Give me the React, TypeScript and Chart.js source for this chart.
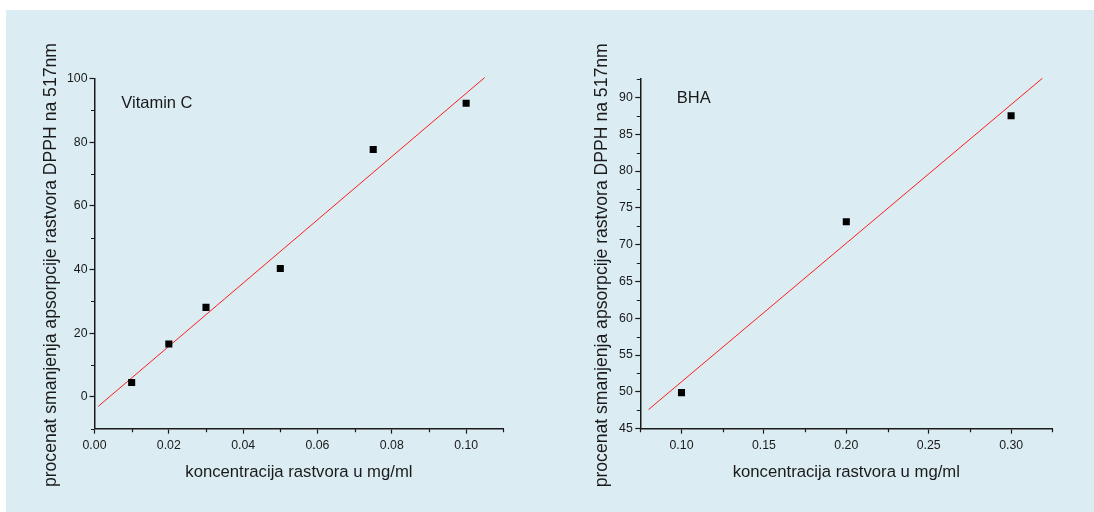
import React, { useEffect, useRef } from "react";
import { Chart, registerables } from "chart.js";

Chart.register(...registerables);

// ---------- data: Vitamin C ----------
const vitCConc = [0.01, 0.02, 0.03, 0.05, 0.075, 0.1];
const vitCValues = [4.5, 16.6, 28.1, 40.3, 77.7, 92.2];
const vitCFitX = [0.001, 0.105];
const vitCFitY = [-3.0, 100.3];
const vitCXMajor = [0, 0.02, 0.04, 0.06, 0.08, 0.1];
const vitCXMinor = [0.01, 0.03, 0.05, 0.07, 0.09, 0.11];
const vitCYMajor = [0, 20, 40, 60, 80, 100];
const vitCYMinor = [-10, 10, 30, 50, 70, 90];

// ---------- data: BHA ----------
const bhaConc = [0.1, 0.2, 0.3];
const bhaValues = [49.9, 73.1, 87.5];
const bhaFitX = [0.08, 0.319];
const bhaFitY = [47.6, 92.6];
const bhaXMajor = [0.1, 0.15, 0.2, 0.25, 0.3];
const bhaXMinor = [0.075, 0.125, 0.175, 0.225, 0.275, 0.325];
const bhaYMajor = [45, 50, 55, 60, 65, 70, 75, 80, 85, 90];
const bhaYMinor = [47.5, 52.5, 57.5, 62.5, 67.5, 72.5, 77.5, 82.5, 87.5, 92.5];

const X_TITLE = "koncentracija rastvora u mg/ml";
const Y_TITLE = "procenat smanjenja apsorpcije rastvora DPPH na 517nm";

const FONT = '"Liberation Sans", Arial, Helvetica, sans-serif';
const TEXT = "#1a1a1a";
const AXIS = "#1a1a1a";

type Spec = {
  conc: number[];
  values: number[];
  fitX: number[];
  fitY: number[];
  xMin: number;
  xMax: number;
  yMin: number;
  yMax: number;
  xMajor: number[];
  xMinor: number[];
  yMajor: number[];
  yMinor: number[];
  xDecimals: number;
  label: string;
  labelX: number;
  labelY: number;
  padTop: number;
  padRight: number;
  yWidth: number;
  yTitleGap: number;
  yLabelPad: number;
};

const decorPlugin = {
  id: "decor",
  afterDraw(chart: any, _args: any, opts: any) {
    const { ctx, chartArea } = chart;
    const xs = chart.scales.x;
    const ys = chart.scales.y;
    ctx.save();
    ctx.strokeStyle = AXIS;
    ctx.lineWidth = 1.2;
    ctx.beginPath();
    (opts.xMinor as number[]).forEach((v) => {
      const px = Math.round(xs.getPixelForValue(v)) + 0.5;
      ctx.moveTo(px, chartArea.bottom);
      ctx.lineTo(px, chartArea.bottom + 3.5);
    });
    (opts.yMinor as number[]).forEach((v) => {
      const py = Math.round(ys.getPixelForValue(v)) + 0.5;
      ctx.moveTo(chartArea.left - 3.5, py);
      ctx.lineTo(chartArea.left, py);
    });
    ctx.stroke();

    ctx.fillStyle = TEXT;
    ctx.font = `16.5px ${FONT}`;
    ctx.textAlign = "left";
    ctx.textBaseline = "alphabetic";
    ctx.fillText(opts.label, xs.getPixelForValue(opts.labelX), ys.getPixelForValue(opts.labelY));

    ctx.translate(chartArea.left - opts.yTitleGap, (chartArea.top + chartArea.bottom) / 2 + 11.5);
    ctx.rotate(-Math.PI / 2);
    ctx.textAlign = "center";
    ctx.font = `17.6px ${FONT}`;
    ctx.fillText(Y_TITLE, 0, 0);
    ctx.restore();
  },
};

function makeConfig(s: Spec): any {
  const points = s.conc.map((c, i) => ({ x: c, y: s.values[i] }));
  const fit = s.fitX.map((c, i) => ({ x: c, y: s.fitY[i] }));
  return {
    type: "scatter",
    data: {
      datasets: [
        {
          label: "data",
          data: points,
          pointStyle: "rect",
          pointRadius: 5,
          pointBorderWidth: 0,
          backgroundColor: "#000000",
          borderColor: "#000000",
          showLine: false,
        },
        {
          label: "fit",
          data: fit,
          showLine: true,
          pointRadius: 0,
          borderColor: "#ff1a1a",
          borderWidth: 1,
          backgroundColor: "#ff1a1a",
          clip: false,
        },
      ],
    },
    options: {
      responsive: false,
      animation: false,
      events: [],
      layout: { padding: { left: 0, top: s.padTop, right: s.padRight, bottom: 0 } },
      plugins: {
        legend: { display: false },
        tooltip: { enabled: false },
        decor: {
          xMinor: s.xMinor,
          yMinor: s.yMinor,
          label: s.label,
          labelX: s.labelX,
          labelY: s.labelY,
          yTitleGap: s.yTitleGap,
        },
      },
      scales: {
        x: {
          type: "linear",
          position: "bottom",
          min: s.xMin,
          max: s.xMax,
          afterBuildTicks: (scale: any) => {
            scale.ticks = s.xMajor.map((v) => ({ value: v }));
          },
          afterFit: (scale: any) => {
            scale.height = 83.3;
          },
          ticks: {
            color: TEXT,
            font: { family: FONT, size: 12.3 },
            padding: 4.5,
            maxRotation: 0,
            autoSkip: false,
            callback: (v: any) => Number(v).toFixed(s.xDecimals),
          },
          grid: {
            display: true,
            drawOnChartArea: false,
            drawTicks: true,
            tickLength: 5,
            tickWidth: 1.2,
            tickColor: AXIS,
            color: AXIS,
          },
          border: { display: true, color: AXIS, width: 1.5 },
          title: {
            display: true,
            text: X_TITLE,
            color: TEXT,
            font: { family: FONT, size: 16.7 },
            padding: { top: 0, bottom: 30 },
          },
        },
        y: {
          type: "linear",
          position: "left",
          min: s.yMin,
          max: s.yMax,
          afterBuildTicks: (scale: any) => {
            scale.ticks = s.yMajor.map((v) => ({ value: v }));
          },
          afterFit: (scale: any) => {
            scale.width = s.yWidth;
          },
          ticks: {
            color: TEXT,
            font: { family: FONT, size: 12.3 },
            padding: s.yLabelPad,
            autoSkip: false,
            callback: (v: any) => String(Math.round(Number(v))),
          },
          grid: {
            display: true,
            drawOnChartArea: false,
            drawTicks: true,
            tickLength: 5,
            tickWidth: 1.2,
            tickColor: AXIS,
            color: AXIS,
          },
          border: { display: true, color: AXIS, width: 1.5 },
          title: { display: false },
        },
      },
    },
    plugins: [decorPlugin],
  };
}

const vitCSpec: Spec = {
  conc: vitCConc,
  values: vitCValues,
  fitX: vitCFitX,
  fitY: vitCFitY,
  xMin: 0,
  xMax: 0.11,
  yMin: -10,
  yMax: 100,
  xMajor: vitCXMajor,
  xMinor: vitCXMinor,
  yMajor: vitCYMajor,
  yMinor: vitCYMinor,
  xDecimals: 2,
  label: "Vitamin C",
  labelX: 0.0072,
  labelY: 90.6,
  padTop: 78.5,
  padRight: 43.7,
  yWidth: 94.5,
  yTitleGap: 38.5,
  yLabelPad: 2,
};

const bhaSpec: Spec = {
  conc: bhaConc,
  values: bhaValues,
  fitX: bhaFitX,
  fitY: bhaFitY,
  xMin: 0.075,
  xMax: 0.325,
  yMin: 45,
  yMax: 92.5,
  xMajor: bhaXMajor,
  xMinor: bhaXMinor,
  yMajor: bhaYMajor,
  yMinor: bhaYMinor,
  xDecimals: 2,
  label: "BHA",
  labelX: 0.0971,
  labelY: 89.2,
  padTop: 79,
  padRight: 41.7,
  yWidth: 93.3,
  yTitleGap: 33,
  yLabelPad: 2.5,
};

function ChartPanel({ spec, left }: { spec: Spec; left: number }) {
  const ref = useRef<HTMLCanvasElement | null>(null);
  useEffect(() => {
    if (!ref.current) return;
    const chart = new Chart(ref.current, makeConfig(spec));
    return () => chart.destroy();
  }, [spec]);
  return (
    <canvas
      ref={ref}
      width={547}
      height={512}
      style={{ position: "absolute", left, top: 0, width: 547, height: 512 }}
    />
  );
}

export default function App() {
  return (
    <div
      style={{
        position: "absolute",
        left: 0,
        top: 0,
        width: 1094,
        height: 512,
        background: "#ffffff",
        overflow: "hidden",
      }}
    >
      <div
        style={{
          position: "absolute",
          left: 6,
          top: 10,
          width: 1088,
          height: 502,
          background: "#dbedf3",
        }}
      />
      <ChartPanel spec={vitCSpec} left={0} />
      <ChartPanel spec={bhaSpec} left={547} />
    </div>
  );
}
